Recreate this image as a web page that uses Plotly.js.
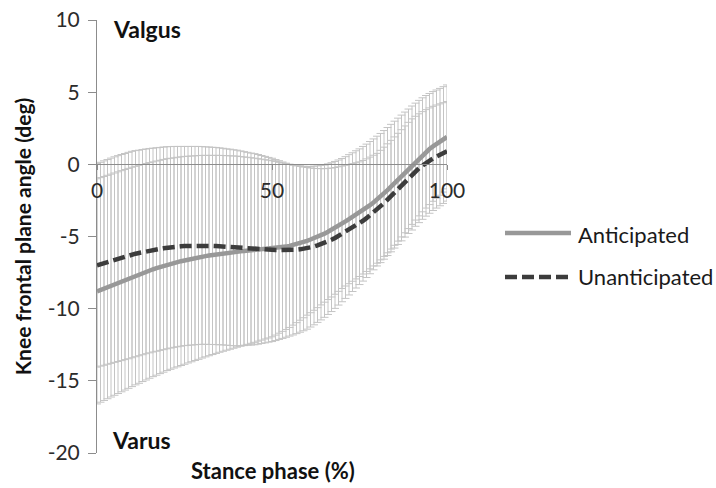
<!DOCTYPE html>
<html>
<head>
<meta charset="utf-8">
<script src="https://cdn.plot.ly/plotly-3.0.1.min.js"></script>
<style>html,body{margin:0;padding:0;background:#fff;}#chart{width:716px;height:488px;}</style>
</head>
<body>
<div id="chart"></div>
<script>
// Stance phase (%)
const stance = [0,1,2,3,4,5,6,7,8,9,10,11,12,13,14,15,16,17,18,19,20,21,22,23,24,25,26,27,28,29,30,31,32,33,34,35,36,37,38,39,40,41,42,43,44,45,46,47,48,49,50,51,52,53,54,55,56,57,58,59,60,61,62,63,64,65,66,67,68,69,70,71,72,73,74,75,76,77,78,79,80,81,82,83,84,85,86,87,88,89,90,91,92,93,94,95,96,97,98,99,100];

// Anticipated mean knee frontal plane angle (deg)
const anticipatedMean = [-8.80,-8.70,-8.60,-8.50,-8.40,-8.30,-8.20,-8.10,-8.00,-7.90,-7.80,-7.71,-7.62,-7.53,-7.44,-7.35,-7.27,-7.19,-7.11,-7.03,-6.95,-6.89,-6.83,-6.77,-6.71,-6.65,-6.60,-6.55,-6.50,-6.45,-6.40,-6.36,-6.32,-6.28,-6.24,-6.20,-6.17,-6.14,-6.11,-6.08,-6.05,-6.03,-6.01,-5.99,-5.97,-5.95,-5.93,-5.91,-5.89,-5.87,-5.85,-5.82,-5.78,-5.74,-5.70,-5.65,-5.59,-5.52,-5.45,-5.38,-5.30,-5.21,-5.12,-5.02,-4.91,-4.80,-4.67,-4.54,-4.40,-4.25,-4.10,-3.95,-3.80,-3.65,-3.50,-3.35,-3.18,-3.01,-2.83,-2.64,-2.45,-2.24,-2.02,-1.79,-1.55,-1.31,-1.06,-0.81,-0.56,-0.31,-0.06,0.19,0.43,0.66,0.87,1.06,1.24,1.40,1.56,1.73,1.90];

// Anticipated standard deviation (deg)
const anticipatedSD = [7.80,7.78,7.76,7.74,7.72,7.70,7.68,7.66,7.64,7.62,7.60,7.57,7.55,7.52,7.50,7.47,7.44,7.42,7.39,7.37,7.34,7.31,7.28,7.26,7.23,7.20,7.16,7.13,7.09,7.06,7.02,6.98,6.94,6.90,6.86,6.82,6.78,6.74,6.70,6.66,6.62,6.57,6.52,6.48,6.43,6.38,6.32,6.27,6.21,6.16,6.10,6.01,5.92,5.83,5.74,5.65,5.55,5.45,5.35,5.25,5.15,5.07,4.99,4.91,4.83,4.75,4.70,4.65,4.60,4.55,4.50,4.48,4.47,4.45,4.44,4.42,4.42,4.41,4.41,4.40,4.40,4.38,4.36,4.34,4.32,4.30,4.26,4.22,4.18,4.14,4.10,4.05,4.00,3.95,3.90,3.85,3.80,3.75,3.70,3.65,3.60];

// Unanticipated mean knee frontal plane angle (deg)
const unanticipatedMean = [-7.00,-6.92,-6.84,-6.76,-6.68,-6.60,-6.53,-6.46,-6.39,-6.32,-6.25,-6.19,-6.14,-6.08,-6.03,-5.98,-5.94,-5.90,-5.86,-5.82,-5.78,-5.75,-5.72,-5.70,-5.68,-5.66,-5.65,-5.64,-5.63,-5.62,-5.62,-5.63,-5.64,-5.65,-5.66,-5.68,-5.70,-5.73,-5.75,-5.78,-5.80,-5.82,-5.84,-5.85,-5.87,-5.88,-5.89,-5.90,-5.91,-5.92,-5.93,-5.94,-5.94,-5.95,-5.95,-5.95,-5.94,-5.92,-5.89,-5.86,-5.82,-5.76,-5.70,-5.62,-5.54,-5.45,-5.34,-5.23,-5.10,-4.96,-4.82,-4.68,-4.53,-4.38,-4.23,-4.08,-3.91,-3.73,-3.54,-3.34,-3.14,-2.92,-2.69,-2.45,-2.20,-1.95,-1.70,-1.45,-1.19,-0.94,-0.70,-0.48,-0.27,-0.08,0.10,0.26,0.41,0.54,0.66,0.78,0.90];

// Unanticipated standard deviation (deg)
const unanticipatedSD = [7.05,7.06,7.08,7.09,7.11,7.12,7.13,7.14,7.14,7.15,7.15,7.14,7.12,7.11,7.09,7.08,7.06,7.05,7.03,7.02,7.00,6.98,6.96,6.94,6.92,6.90,6.89,6.88,6.87,6.86,6.85,6.84,6.84,6.83,6.83,6.82,6.81,6.80,6.80,6.79,6.78,6.75,6.72,6.68,6.65,6.62,6.57,6.51,6.46,6.40,6.35,6.27,6.19,6.11,6.03,5.95,5.88,5.81,5.74,5.67,5.60,5.51,5.42,5.33,5.24,5.15,5.06,4.97,4.88,4.79,4.70,4.61,4.52,4.43,4.34,4.25,4.18,4.11,4.04,3.97,3.90,3.89,3.88,3.87,3.86,3.85,3.85,3.85,3.85,3.85,3.85,3.81,3.77,3.73,3.69,3.65,3.61,3.57,3.53,3.49,3.45];

const seriesNames = ['Anticipated', 'Unanticipated'];
const yTickVals = [-20, -15, -10, -5, 0, 5, 10];
const xTickVals = [0, 50, 100];

const FONT = 'Lato, "Open Sans", sans-serif';
const errColor = '#c4c4c4';

function errTrace(y, sd) {
  return {
    x: stance, y: y, type: 'scatter', mode: 'markers',
    marker: {size: 1, color: 'rgba(0,0,0,0)'},
    error_y: {type: 'data', array: sd, visible: true, color: errColor, thickness: 1, width: 4},
    hoverinfo: 'skip', showlegend: false
  };
}

const data = [
  errTrace(anticipatedMean, anticipatedSD),
  errTrace(unanticipatedMean, unanticipatedSD),
  {x: stance, y: anticipatedMean, type: 'scatter', mode: 'lines', name: seriesNames[0],
   line: {color: '#989898', width: 4.5}, showlegend: false},
  {x: stance, y: unanticipatedMean, type: 'scatter', mode: 'lines', name: seriesNames[1],
   line: {color: '#3c3c3c', width: 4.5, dash: '12px,5px'}, showlegend: false}
];

function px(x) { return (x - 97) / 350; }
function py(y) { return (453 - y) / 433; }

const layout = {
  width: 716, height: 488,
  margin: {l: 97, r: 269, t: 20, b: 35},
  paper_bgcolor: '#fff', plot_bgcolor: '#fff',
  font: {family: FONT, color: '#2b2b2b', size: 20},
  showlegend: false,
  xaxis: {
    range: [0, 100], tickvals: xTickVals, ticktext: xTickVals.map(String),
    anchor: 'free', position: 2/3,
    showline: true, linecolor: '#8c8c8c', linewidth: 1,
    ticks: 'outside', ticklen: 5, tickcolor: '#8c8c8c',
    showgrid: false, zeroline: false,
    tickfont: {family: FONT, size: 21, color: '#2b2b2b'},
    ticklabelstandoff: 2
  },
  yaxis: {
    range: [-20, 10], tickvals: yTickVals, ticktext: yTickVals.map(String),
    showline: true, linecolor: '#8c8c8c', linewidth: 1,
    ticks: 'outside', ticklen: 8, tickcolor: '#8c8c8c',
    showgrid: false, zeroline: false,
    tickfont: {family: FONT, size: 21, color: '#2b2b2b'},
    ticklabelstandoff: 4,
    title: {text: '<b>Knee frontal plane angle (deg)</b>', font: {family: FONT, size: 21, color: '#111'}, standoff: 10}
  },
  shapes: [
    {type: 'line', xref: 'paper', yref: 'paper', x0: px(505), x1: px(571), y0: py(233), y1: py(233),
     line: {color: '#989898', width: 4.5}},
    {type: 'line', xref: 'paper', yref: 'paper', x0: px(505), x1: px(573), y0: py(277), y1: py(277),
     line: {color: '#3c3c3c', width: 4.5, dash: '12px,5px'}}
  ],
  annotations: [
    {text: '<b>Valgus</b>', xref: 'paper', yref: 'paper', x: px(111), y: py(29), xanchor: 'left', yanchor: 'middle',
     showarrow: false, font: {family: FONT, size: 23, color: '#111'}},
    {text: '<b>Varus</b>', xref: 'paper', yref: 'paper', x: px(110), y: py(440), xanchor: 'left', yanchor: 'middle',
     showarrow: false, font: {family: FONT, size: 23, color: '#111'}},
    {text: '<b>Stance phase (%)</b>', xref: 'paper', yref: 'paper', x: px(273), y: py(470), xanchor: 'center', yanchor: 'middle',
     showarrow: false, font: {family: FONT, size: 22, color: '#111'}},
    {text: seriesNames[0], xref: 'paper', yref: 'paper', x: px(576), y: py(234), xanchor: 'left', yanchor: 'middle',
     showarrow: false, font: {family: FONT, size: 22, color: '#1a1a1a'}},
    {text: seriesNames[1], xref: 'paper', yref: 'paper', x: px(576), y: py(276), xanchor: 'left', yanchor: 'middle',
     showarrow: false, font: {family: FONT, size: 22, color: '#1a1a1a'}}
  ]
};

Plotly.newPlot('chart', data, layout, {displayModeBar: false, staticPlot: true});
</script>
</body>
</html>
